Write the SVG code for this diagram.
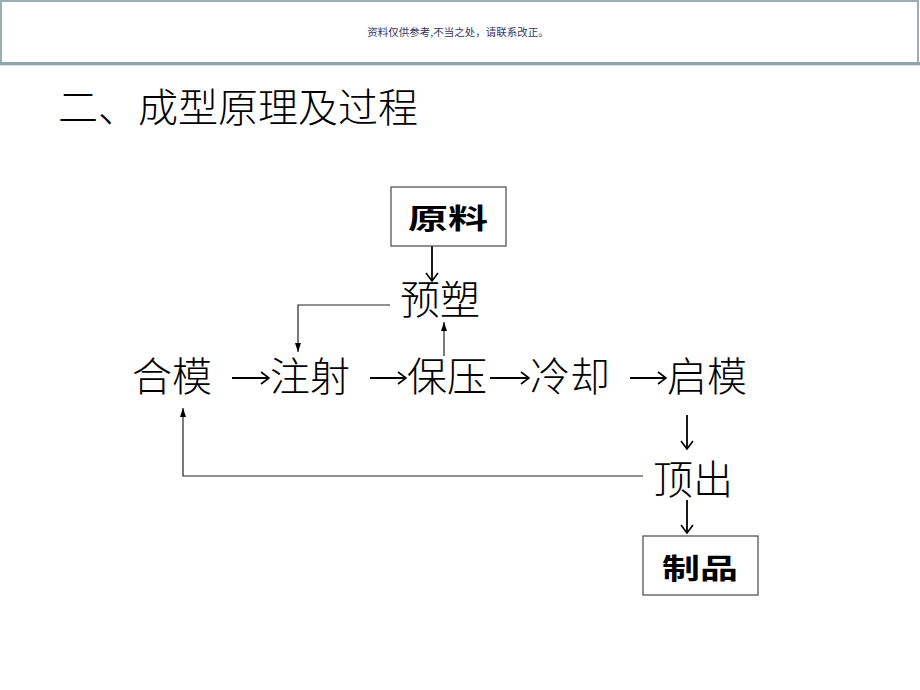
<svg xmlns="http://www.w3.org/2000/svg" width="920" height="690" viewBox="0 0 920 690">
  <style>
    .cjk { font-family: "Noto Sans CJK SC", sans-serif; fill: #000; }
    .big { font-size: 40px; font-weight: 300; }
    .box { fill: #fff; stroke: #555; stroke-width: 1.3; }
    .boxtext { font-size: 28px; font-weight: bold; }
    .thin { fill: none; stroke: #222; stroke-width: 1.2; }
    .glyph { fill: none; stroke: #000; stroke-width: 1.8; }
  </style>
  <defs>
    <marker id="tri" viewBox="0 0 9 6" refX="9" refY="3" markerWidth="9" markerHeight="6" markerUnits="userSpaceOnUse" orient="auto">
      <path d="M0,0 L9,3 L0,6 z" fill="#000"/>
    </marker>
    <marker id="vee" viewBox="0 0 10 14" refX="9" refY="7" markerWidth="10" markerHeight="14" markerUnits="userSpaceOnUse" orient="auto">
      <path d="M1,1 L9,7 L1,13" fill="none" stroke="#000" stroke-width="1.6"/>
    </marker>
  </defs>
  <rect width="920" height="690" fill="#fff"/>

  <g id="header">
    <rect x="1" y="1" width="917" height="62" fill="#fff" stroke="#9aafb1" stroke-width="2"/>
    <line x1="0" y1="63.5" x2="920" y2="63.5" stroke="#8fa5a8" stroke-width="3"/>
    <line x1="0" y1="65.5" x2="920" y2="65.5" stroke="#d8e2e2" stroke-width="1"/>
    <text x="458" y="36" text-anchor="middle" font-family="'Noto Sans CJK SC', sans-serif" font-size="10.5" fill="#35355f">资料仅供参考,不当之处，请联系改正。</text>
  </g>

  <g id="title">
    <text class="cjk big" x="58" y="122">二、成型原理及过程</text>
  </g>

  <g id="connectors">
    <line class="glyph" x1="432" y1="246" x2="432" y2="281" marker-end="url(#vee)"/>
    <path class="thin" d="M390,305 H298 V352" marker-end="url(#tri)"/>
    <path class="thin" d="M444,356 V322" marker-end="url(#tri)"/>
    <line class="glyph" x1="232" y1="378" x2="269" y2="378" marker-end="url(#vee)"/>
    <line class="glyph" x1="370" y1="378" x2="406" y2="378" marker-end="url(#vee)"/>
    <line class="glyph" x1="490" y1="378" x2="529" y2="378" marker-end="url(#vee)"/>
    <line class="glyph" x1="630" y1="378" x2="666" y2="378" marker-end="url(#vee)"/>
    <line class="glyph" x1="687" y1="415" x2="687" y2="449" marker-end="url(#vee)"/>
    <path class="thin" d="M643,476 H183 V408" marker-end="url(#tri)"/>
    <line class="glyph" x1="687" y1="500" x2="687" y2="533" marker-end="url(#vee)"/>
  </g>

  <g id="node-yuanliao">
    <rect class="box" x="391" y="187" width="115" height="59"/>
    <text class="cjk boxtext" x="408" y="229" textLength="80" lengthAdjust="spacingAndGlyphs">原料</text>
  </g>
  <g id="node-yusu">
    <text class="cjk big" x="400" y="314">预塑</text>
  </g>
  <g id="node-hemo">
    <text class="cjk big" x="132" y="391">合模</text>
  </g>
  <g id="node-zhushe">
    <text class="cjk big" x="270" y="391">注射</text>
  </g>
  <g id="node-baoya">
    <text class="cjk big" x="407" y="391">保压</text>
  </g>
  <g id="node-lengque">
    <text class="cjk big" x="530" y="391">冷却</text>
  </g>
  <g id="node-qimo">
    <text class="cjk big" x="667" y="391">启模</text>
  </g>
  <g id="node-dingchu">
    <text class="cjk big" x="653" y="494">顶出</text>
  </g>
  <g id="node-zhipin">
    <rect class="box" x="643" y="536" width="115" height="59"/>
    <text class="cjk boxtext" x="662" y="579" textLength="76" lengthAdjust="spacingAndGlyphs">制品</text>
  </g>
</svg>
